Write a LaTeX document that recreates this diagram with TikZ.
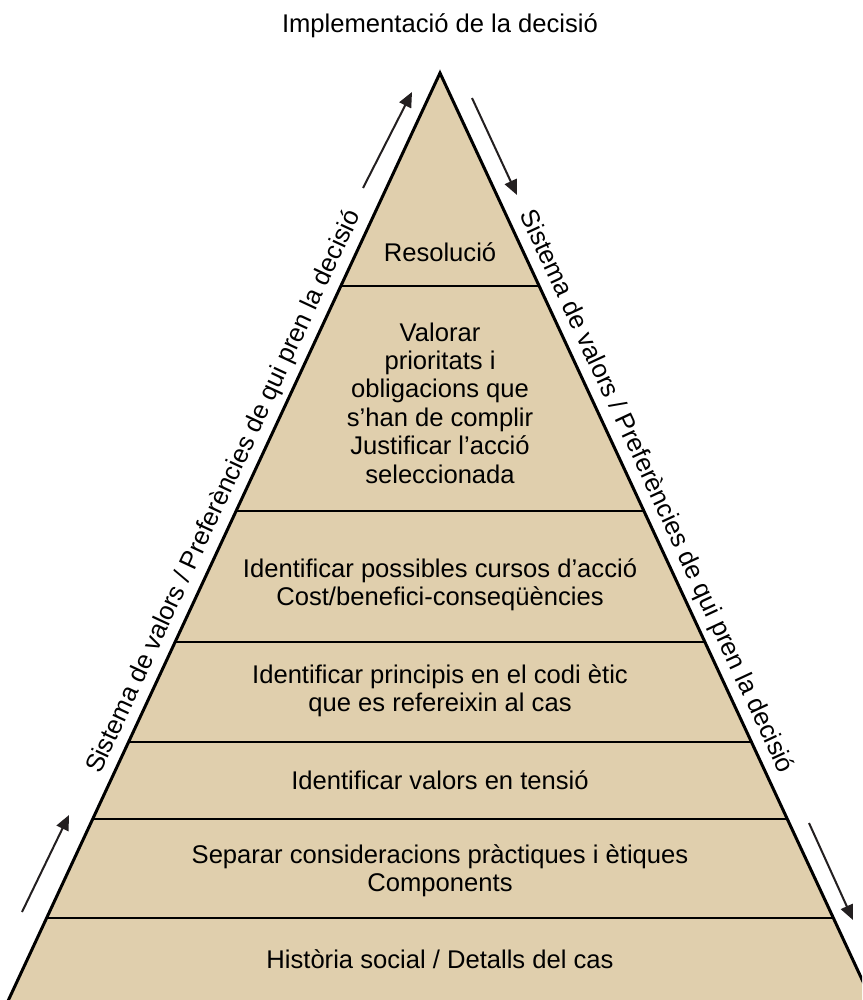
\documentclass[tikz,border=0pt]{standalone}
\usepackage{fontspec}
\setmainfont{Liberation Sans}
\usetikzlibrary{arrows.meta}
\definecolor{pyrtan}{RGB}{224,207,173}
\definecolor{ink}{RGB}{35,31,32}
\begin{document}
\begin{tikzpicture}[x=1pt,y=-1pt,
  lbl/.style={font=\fontsize{25.6}{28.4}\selectfont, align=center, text=black, inner sep=0pt},
  arr/.style={draw=ink, line width=2pt, -{Triangle[length=15pt,width=13pt]}},
  band/.style={line width=2.5pt, draw=black},
  edge/.style={line width=3pt, draw=black, line join=miter}]
\useasboundingbox (0,0) rectangle (862,1000);
\clip (0,0) rectangle (862,1000);
\coordinate (apex) at (440,73);
\coordinate (bl) at (3.8,1010);
\coordinate (br) at (876.2,1010);
\fill[pyrtan] (apex) -- (bl) -- (br) -- cycle;
\begin{scope}
  \clip (apex) -- (bl) -- (br) -- cycle;
  \foreach \y in {286,511,642,742,819,918} \draw[band] (0,\y) -- (862,\y);
\end{scope}
\draw[edge] (bl) -- (apex) -- (br);

% texts
\node[lbl, anchor=base] (title) at (440,33) {Implementació de la decisió};
\node[lbl, anchor=base] (t1) at (440,261) {Resolució};
\node[lbl] (t2) at (440,403) {Valorar\\prioritats i\\obligacions que\\s’han de complir\\Justificar l’acció\\seleccionada};
\node[lbl] (t3) at (440,584.5) {Identificar possibles cursos d’acció\\Cost/benefici-conseqüències};
\node[lbl] (t4) at (440,691) {Identificar principis en el codi ètic\\que es refereixin al cas};
\node[lbl, anchor=base] (t5) at (440,789) {Identificar valors en tensió};
\node[lbl] (t6) at (440,871) {Separar consideracions pràctiques i ètiques\\Components};
\node[lbl, anchor=base] (t7) at (440,968) {Història social / Detalls del cas};

% side labels
\node[lbl, anchor=base, rotate=65.04] (lside) at (230.3,494.9) {Sistema de valors / Preferències de qui pren la decisió};
\node[lbl, anchor=base, rotate=-65.04] (rside) at (649.7,494.9) {Sistema de valors / Preferències de qui pren la decisió};

% arrows
\coordinate (l1a) at (22,912);  \coordinate (l1b) at (69,815);
\coordinate (l2a) at (363,188); \coordinate (l2b) at (412,92);
\coordinate (r1a) at (472,98);  \coordinate (r1b) at (517,195);
\coordinate (r2a) at (809,823); \coordinate (r2b) at (853,920);
\draw[arr] (l1a) -- (l1b);
\draw[arr] (l2a) -- (l2b);
\draw[arr] (r1a) -- (r1b);
\draw[arr] (r2a) -- (r2b);
\end{tikzpicture}
\end{document}
